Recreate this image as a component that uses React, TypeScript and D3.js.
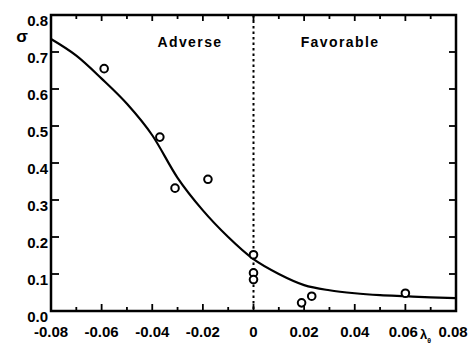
import * as d3 from "d3";
import { useEffect, useRef } from "react";

// measured points (circles)
const pointX = [-0.059, -0.037, -0.031, -0.018, 0, 0, 0, 0.019, 0.023, 0.06];
const pointY = [0.655, 0.47, 0.332, 0.356, 0.152, 0.103, 0.085, 0.022, 0.04, 0.048];

// fitted curve
const curveX = [-0.08, -0.07, -0.06, -0.05, -0.04, -0.03, -0.02, -0.01, 0, 0.01, 0.02, 0.03, 0.04, 0.05, 0.06, 0.07, 0.08];
const curveY = [0.735, 0.69, 0.628, 0.56, 0.475, 0.36, 0.272, 0.2, 0.14, 0.1, 0.07, 0.056, 0.048, 0.043, 0.04, 0.037, 0.035];

const xTicks = [-0.08, -0.06, -0.04, -0.02, 0, 0.02, 0.04, 0.06, 0.08];
const xTickLabels = ["-0.08", "-0.06", "-0.04", "-0.02", "0", "0.02", "0.04", "0.06", "0.08"];
const xMinorTicks = [-0.07, -0.05, -0.03, -0.01, 0.01, 0.03, 0.05, 0.07];
const yTicks = [0, 0.1, 0.2, 0.3, 0.4, 0.5, 0.6, 0.7, 0.8];
const yTickLabels = ["0.0", "0.1", "0.2", "0.3", "0.4", "0.5", "0.6", "0.7", "0.8"];

const W = 474;
const H = 350;
const left = 51;
const right = 456;
const top = 15;
const bottom = 311;
const font = "'Liberation Sans', Arial, sans-serif";

export default function App() {
    const svgRef = useRef<SVGSVGElement>(null);

    useEffect(() => {
        if (svgRef.current) {
            drawChart();
        }
    }, [svgRef]);

    const drawChart = () => {
        const svg = d3.select(svgRef.current);
        svg.selectAll("*").remove();

        const scaleX = d3.scaleLinear().domain([-0.08, 0.08]).range([left, right]);
        const scaleY = d3.scaleLinear().domain([0, 0.8]).range([bottom, top]);

        svg.append("rect").attr("width", W).attr("height", H).attr("fill", "white");

        // ticks (inward)
        const tickG = svg.append("g").attr("stroke", "black").attr("stroke-width", 1.8);
        xTicks.forEach((t) => {
            const x = scaleX(t);
            tickG.append("line").attr("x1", x).attr("x2", x).attr("y1", bottom).attr("y2", bottom - 7);
            tickG.append("line").attr("x1", x).attr("x2", x).attr("y1", top).attr("y2", top + 6);
        });
        xMinorTicks.forEach((t) => {
            const x = scaleX(t);
            tickG.append("line").attr("x1", x).attr("x2", x).attr("y1", bottom).attr("y2", bottom - 4);
            tickG.append("line").attr("x1", x).attr("x2", x).attr("y1", top).attr("y2", top + 4);
        });
        yTicks.forEach((t) => {
            const y = scaleY(t);
            tickG.append("line").attr("x1", left).attr("x2", left + 8).attr("y1", y).attr("y2", y);
            tickG.append("line").attr("x1", right).attr("x2", right - 7).attr("y1", y).attr("y2", y);
        });

        // frame
        svg.append("rect")
            .attr("x", left)
            .attr("y", top)
            .attr("width", right - left)
            .attr("height", bottom - top)
            .attr("fill", "none")
            .attr("stroke", "black")
            .attr("stroke-width", 2.5);

        // dotted line at zero
        svg.append("line")
            .attr("x1", scaleX(0))
            .attr("x2", scaleX(0))
            .attr("y1", top)
            .attr("y2", bottom)
            .attr("stroke", "black")
            .attr("stroke-width", 2)
            .attr("stroke-dasharray", "2.5,3");

        // curve
        const line = d3
            .line<number>()
            .x((d, i) => scaleX(curveX[i]))
            .y((d) => scaleY(d))
            .curve(d3.curveMonotoneX);
        svg.append("path")
            .datum(curveY)
            .attr("fill", "none")
            .attr("stroke", "black")
            .attr("stroke-width", 2.2)
            .attr("d", line);

        // points
        svg.append("g")
            .selectAll("circle")
            .data(pointX)
            .join("circle")
            .attr("cx", (d) => scaleX(d))
            .attr("cy", (d, i) => scaleY(pointY[i]))
            .attr("r", 3.8)
            .attr("fill", "white")
            .attr("stroke", "black")
            .attr("stroke-width", 2);

        // tick labels
        const labels = svg.append("g")
            .attr("font-family", font)
            .attr("font-weight", "bold")
            .attr("font-size", 15)
            .attr("fill", "black");
        xTicks.forEach((t, i) => {
            // the last label sits a bit left, the 0.06 one a bit left too, to leave room for λ
            const shift = i === xTicks.length - 1 ? -3 : i === xTicks.length - 2 ? -2 : 0;
            labels.append("text")
                .attr("x", scaleX(t) + shift)
                .attr("y", 337)
                .attr("text-anchor", "middle")
                .text(xTickLabels[i]);
        });
        yTicks.forEach((t, i) => {
            labels.append("text")
                .attr("x", left - 3)
                .attr("y", scaleY(t) + 11)
                .attr("text-anchor", "end")
                .text(yTickLabels[i]);
        });

        // axis titles
        svg.append("text")
            .attr("x", 22)
            .attr("y", 42)
            .attr("text-anchor", "middle")
            .attr("font-family", font)
            .attr("font-weight", "bold")
            .attr("font-size", 17)
            .text("σ");
        const lam = svg.append("text")
            .attr("x", 420)
            .attr("y", 339)
            .attr("font-family", font)
            .attr("font-weight", "bold")
            .attr("font-size", 13);
        lam.append("tspan").text("λ");
        lam.append("tspan").attr("font-size", 7).attr("dy", 4).text("θ");

        // region labels
        const region = svg.append("g")
            .attr("font-family", font)
            .attr("font-weight", "bold")
            .attr("font-size", 14)
            .attr("letter-spacing", 1.4)
            .attr("text-anchor", "middle");
        region.append("text").attr("x", 190).attr("y", 47).text("Adverse");
        region.append("text").attr("x", 340).attr("y", 47).text("Favorable");
    };

    return (
        <svg
            ref={svgRef}
            width={W}
            height={H}
            style={{ position: "absolute", left: 0, top: 0 }}
        />
    );
}
